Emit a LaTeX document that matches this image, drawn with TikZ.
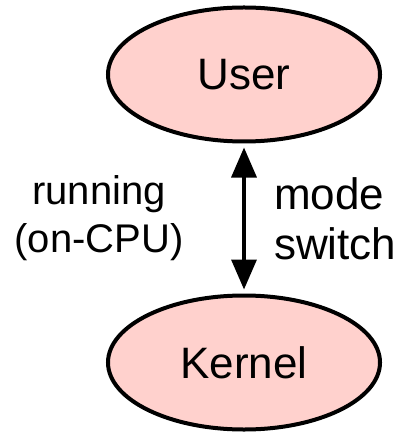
\documentclass[tikz,border=0pt]{standalone}
\usepackage{fontspec}
\setmainfont{Liberation Sans}
\usetikzlibrary{shapes.geometric,arrows.meta}
\definecolor{statepink}{RGB}{255,209,205}
\tikzset{
  state/.style={ellipse, draw=black, fill=statepink, line width=4bp,
    minimum width=272bp, minimum height=134bp, inner sep=0pt,
    font=\fontsize{44bp}{50bp}\selectfont},
  transition/.style={line width=3.5bp,
    {Triangle[width=25bp,length=30bp]}-{Triangle[width=25bp,length=30bp]},
    shorten <=4bp, shorten >=4bp},
  leftlabel/.style={align=center, inner sep=0pt,
    font=\fontsize{40bp}{48bp}\selectfont},
  rightlabel/.style={align=left, inner sep=0pt, anchor=west,
    font=\fontsize{44bp}{50bp}\selectfont}
}
\begin{document}
\begin{tikzpicture}[x=1bp, y=-1bp]
  \useasboundingbox (0,0) rectangle (409,434);
  % the two execution modes
  \node[state] (user) at (244,74.5) {User};
  \node[state] (kernel) at (244,362.5) {Kernel};
  % switching between them
  \draw[transition] (user.south) -- (kernel.north);
  \node[leftlabel] (running) at (99,218) {running\\(on-CPU)};
  \node[rightlabel] (switch) at (274,219) {mode\\switch};
\end{tikzpicture}
\end{document}
